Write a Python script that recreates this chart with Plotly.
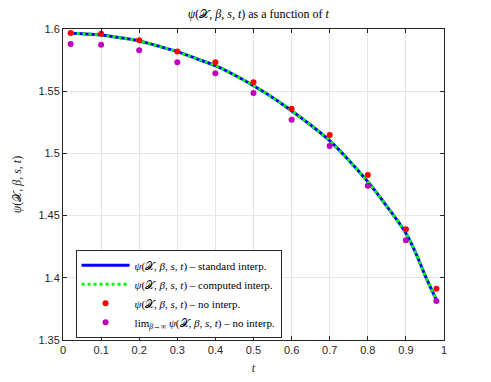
import plotly.graph_objects as go

# smooth curve
t_curve = [0.02, 0.05, 0.1, 0.15, 0.2, 0.25, 0.3, 0.35, 0.4, 0.45, 0.5,
           0.55, 0.6, 0.65, 0.7, 0.75, 0.8, 0.85, 0.9, 0.925, 0.95, 0.98]
psi_curve = [1.5966, 1.5962, 1.5952, 1.5930, 1.5904, 1.5863, 1.5818, 1.5762,
             1.5705, 1.5630, 1.5544, 1.5450, 1.5343, 1.5228, 1.5102, 1.4945,
             1.4772, 1.4575, 1.4358, 1.4205, 1.4022, 1.3822]

# sampled points
t_pts = [0.02, 0.1, 0.2, 0.3, 0.4, 0.5, 0.6, 0.7, 0.8, 0.9, 0.98]
psi_noint = [1.5968, 1.5962, 1.5909, 1.5820, 1.5732, 1.5571, 1.5359, 1.5148,
             1.4826, 1.4390, 1.3912]
psi_lim = [1.5880, 1.5874, 1.5829, 1.5732, 1.5644, 1.5486, 1.5271, 1.5060,
           1.4740, 1.4301, 1.3813]

x_ticks = [0, 0.1, 0.2, 0.3, 0.4, 0.5, 0.6, 0.7, 0.8, 0.9, 1]
y_ticks = [1.35, 1.4, 1.45, 1.5, 1.55, 1.6]

psi = "<i>ψ</i>(𝒳, <i>β</i>, <i>s</i>, <i>t</i>)"
serif = "Liberation Serif, DejaVu Serif, serif"
sans = "Liberation Sans, Arial, sans-serif"

fig = go.Figure()
fig.add_trace(go.Scatter(x=t_curve, y=psi_curve, mode="lines", line_shape="spline",
                         line=dict(color="#0000ff", width=3),
                         name=psi + " – standard interp."))
fig.add_trace(go.Scatter(x=t_curve, y=psi_curve, mode="lines", line_shape="spline",
                         line=dict(color="#00ff00", width=3, dash="3px,3px"),
                         name=psi + " – computed interp."))
fig.add_trace(go.Scatter(x=t_pts, y=psi_noint, mode="markers",
                         marker=dict(color="#ff0000", size=6),
                         name=psi + " – no interp."))
fig.add_trace(go.Scatter(x=t_pts, y=psi_lim, mode="markers",
                         marker=dict(color="#bf00bf", size=6),
                         name="lim<sub><i>β</i>→∞</sub> " + psi + " – no interp."))

axis_common = dict(showgrid=True, gridcolor="#e6e6e6", gridwidth=1,
                   showline=True, linecolor="#262626", linewidth=1, mirror="ticks",
                   ticks="inside", ticklen=4, tickcolor="#262626",
                   tickfont=dict(family=sans, size=11, color="#262626"),
                   zeroline=False, automargin=False)

# the page puts the figure 8px in from the top left corner
fig.update_layout(
    width=491, height=382,
    paper_bgcolor="white", plot_bgcolor="white",
    margin=dict(l=55, r=55, t=21, b=50),
    title=dict(text=psi + " as a function of <i>t</i>", x=0.51, xanchor="center",
               y=0.985, yanchor="middle",
               font=dict(family=serif, size=12, color="#000000")),
    xaxis=dict(range=[0, 1], tickvals=x_ticks,
               ticktext=[f"{v:g}" for v in x_ticks],
               title=dict(text="<i>t</i>", standoff=8,
                          font=dict(family=serif, size=12, color="#262626")),
               **axis_common),
    yaxis=dict(range=[1.35, 1.6], tickvals=y_ticks,
               ticktext=[f"{v:g}" for v in y_ticks],
               title=dict(text=psi, standoff=14,
                          font=dict(family=serif, size=12, color="#262626")),
               **axis_common),
    legend=dict(x=0.033, y=0.29, xanchor="left", yanchor="top",
                bgcolor="white", bordercolor="#262626", borderwidth=1,
                font=dict(family=serif, size=11, color="#000000"),
                itemwidth=48, entrywidth=240, entrywidthmode="pixels",
                tracegroupgap=0),
    showlegend=True,
)

fig.write_html("out.html")
